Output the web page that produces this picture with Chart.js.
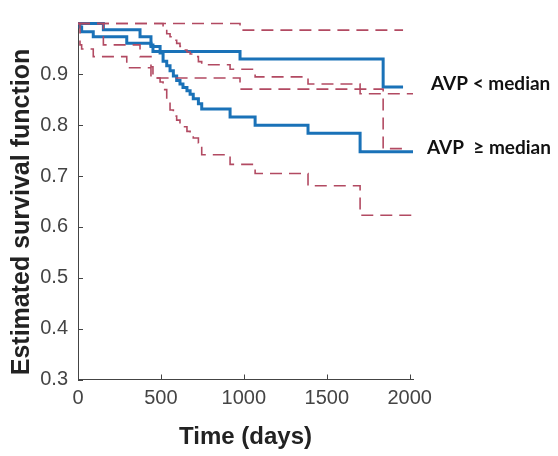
<!DOCTYPE html>
<html>
<head>
<meta charset="utf-8">
<script src="https://cdn.jsdelivr.net/npm/chart.js@4.4.1/dist/chart.umd.min.js"></script>
<style>
  html, body { margin: 0; padding: 0; background: #fff; }
  #wrap { width: 558px; height: 456px; }
</style>
</head>
<body>
<div id="wrap"><canvas id="kmChart" width="558" height="456"></canvas></div>
<script>
// AVP < median
const lowDays  = [0, 153, 374, 440, 452, 977, 1840, 1960];
const lowSurv  = [1, 0.988, 0.974, 0.958, 0.945, 0.930, 0.875, 0.875];
const lowLower = [1, 0.958, 0.935, 0.915, 0.893, 0.871, 0.754, 0.754];
const lowUpper = [1, 1, 1, 1, 1, 0.987, 0.987, 0.987];

// AVP >= median
const highDays  = [0, 12, 22, 92, 294, 440, 495, 513, 535, 555, 575, 595, 615, 633, 657, 676, 695, 726, 746, 917, 1068, 1387, 1701, 2020];
const highSurv  = [1, 0.993, 0.984, 0.974, 0.961, 0.955, 0.942, 0.926, 0.917, 0.907, 0.897, 0.888, 0.881, 0.874, 0.868, 0.861, 0.852, 0.842, 0.832, 0.816, 0.800, 0.784, 0.748, 0.748];
const highLower = [1, 0.958, 0.950, 0.935, 0.913, 0.893, 0.885, 0.870, 0.850, 0.830, 0.818, 0.810, 0.803, 0.797, 0.788, 0.782, 0.775, 0.765, 0.742, 0.723, 0.705, 0.681, 0.623, 0.623];
const highUpper = [1, 1, 1, 1, 1, 1, 1, 0.988, 0.980, 0.974, 0.967, 0.961, 0.955, 0.948, 0.944, 0.940, 0.935, 0.925, 0.919, 0.910, 0.895, 0.881, 0.862, 0.862];

const xTicks = [0, 500, 1000, 1500, 2000];
const yTicks = [0.3, 0.4, 0.5, 0.6, 0.7, 0.8, 0.9];
const groupLabels = ['AVP < median', 'AVP  \u2265 median'];
const yTitle = 'Estimated survival function';

const BLUE = '#1a72b8';
const RED = '#b24a62';

const pts = (days, vals) => days.map((d, i) => ({ x: d, y: vals[i] }));

function survLine(days, vals) {
    return { data: pts(days, vals), borderColor: BLUE, borderWidth: 3, stepped: 'before', pointRadius: 0, fill: false };
}
function ciLine(days, vals) {
    return { data: pts(days, vals), borderColor: RED, borderWidth: 1.6, borderDash: [12, 7], stepped: 'before', pointRadius: 0, fill: false };
}

// inward tick marks, y title and the group labels on the right
const extras = {
    id: 'extras',
    afterDraw(chart) {
        const { ctx, chartArea, scales } = chart;
        ctx.save();
        ctx.strokeStyle = '#444';
        ctx.lineWidth = 1;
        ctx.beginPath();
        xTicks.forEach(v => {
            const px = Math.round(scales.x.getPixelForValue(v)) + 0.5;
            ctx.moveTo(px, chartArea.bottom);
            ctx.lineTo(px, chartArea.bottom - 5);
        });
        yTicks.forEach(v => {
            const py = Math.round(scales.y.getPixelForValue(v)) + 0.5;
            ctx.moveTo(chartArea.left, py);
            ctx.lineTo(chartArea.left + 5, py);
        });
        ctx.stroke();

        ctx.fillStyle = '#222';
        ctx.font = 'bold 25px "Liberation Sans"';
        ctx.textAlign = 'center';
        ctx.textBaseline = 'middle';
        ctx.translate(22, 212);
        ctx.rotate(-Math.PI / 2);
        ctx.fillText(yTitle, 0, 0);
        ctx.setTransform(1, 0, 0, 1, 0, 0);

        ctx.fillStyle = '#111';
        ctx.font = 'bold 19px Lato';
        ctx.textAlign = 'left';
        ctx.fillText(groupLabels[0], 431, 84);
        ctx.fillText(groupLabels[1], 427, 148);
        ctx.restore();
    }
};

new Chart(document.getElementById('kmChart').getContext('2d'), {
    type: 'line',
    data: {
        datasets: [
            ciLine(lowDays, lowUpper),
            ciLine(lowDays, lowLower),
            ciLine(highDays, highUpper),
            ciLine(highDays, highLower),
            survLine(lowDays, lowSurv),
            survLine(highDays, highSurv)
        ]
    },
    options: {
        responsive: false,
        animation: false,
        layout: { padding: { top: 15, right: 145, left: 0, bottom: 0 } },
        plugins: { legend: { display: false }, tooltip: { enabled: false } },
        scales: {
            x: {
                type: 'linear',
                min: 0,
                max: 2020,
                afterBuildTicks: s => { s.ticks = xTicks.map(v => ({ value: v })); },
                afterFit: s => { s.height = 76.5; },
                grid: { display: false, drawTicks: false },
                border: { display: true, color: '#444', width: 1 },
                ticks: { color: '#444', font: { family: 'Liberation Sans', size: 20 }, padding: 7, maxRotation: 0, callback: v => String(v) },
                title: { display: true, text: 'Time (days)', color: '#222', font: { family: 'Liberation Sans', size: 24, weight: 'bold' }, padding: { top: 0, bottom: 4 } }
            },
            y: {
                type: 'linear',
                min: 0.3,
                max: 1.003,
                afterBuildTicks: s => { s.ticks = yTicks.map(v => ({ value: v })); },
                afterFit: s => { s.width = 78; },
                grid: { display: false, drawTicks: false },
                border: { display: true, color: '#444', width: 1 },
                ticks: { color: '#444', font: { family: 'Liberation Sans', size: 20 }, padding: 10, callback: v => v.toFixed(1) }
            }
        }
    },
    plugins: [extras]
});
</script>
</body>
</html>
